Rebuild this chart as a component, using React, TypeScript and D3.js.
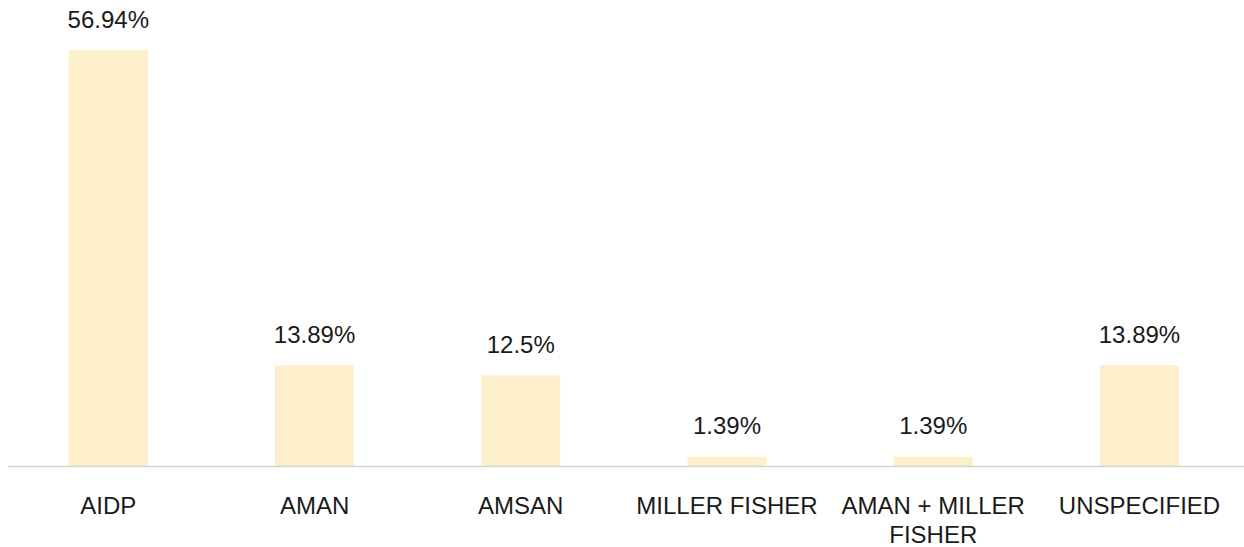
import React from "react";
import * as d3 from "d3";

const categories: string[][] = [
  ["AIDP"],
  ["AMAN"],
  ["AMSAN"],
  ["MILLER FISHER"],
  ["AMAN + MILLER", "FISHER"],
  ["UNSPECIFIED"],
];
const values: number[] = [56.94, 13.89, 12.5, 1.39, 1.39, 13.89];
const valueLabels: string[] = ["56.94%", "13.89%", "12.5%", "1.39%", "1.39%", "13.89%"];

const W = 1244;
const H = 547;
const baseY = 467;
const topY = 50;
const FONT = "'Liberation Sans', Arial, Helvetica, sans-serif";

export default function App() {
  const idx = values.map((_, i) => String(i));
  const x = d3
    .scaleBand<string>()
    .domain(idx)
    .range([5.2, 1242.6])
    .paddingInner(0.617)
    .paddingOuter(0.3085);
  const y = d3.scaleLinear().domain([0, d3.max(values) as number]).range([baseY, topY]);

  return (
    <svg
      width={W}
      height={H}
      style={{ position: "absolute", left: 0, top: 0, background: "#fff" }}
      fontFamily={FONT}
    >
      {values.map((v, i) => {
        const bx = x(String(i)) as number;
        const bw = x.bandwidth();
        const cx = bx + bw / 2;
        return (
          <g key={i}>
            <rect x={bx} y={y(v)} width={bw} height={baseY - y(v)} fill="#fcefc9" />
            <text x={cx} y={y(v) - 22.5} textAnchor="middle" fontSize={24} fill="#1a1a1a">
              {valueLabels[i]}
            </text>
            {categories[i].map((line, j) => (
              <text
                key={j}
                x={cx}
                y={514 + j * 29}
                textAnchor="middle"
                fontSize={24}
                fill="#1a1a1a"
              >
                {line}
              </text>
            ))}
          </g>
        );
      })}
      <line x1={8} x2={W} y1={baseY - 0.5} y2={baseY - 0.5} stroke="#d4d4d4" strokeWidth={1.5} />
    </svg>
  );
}
